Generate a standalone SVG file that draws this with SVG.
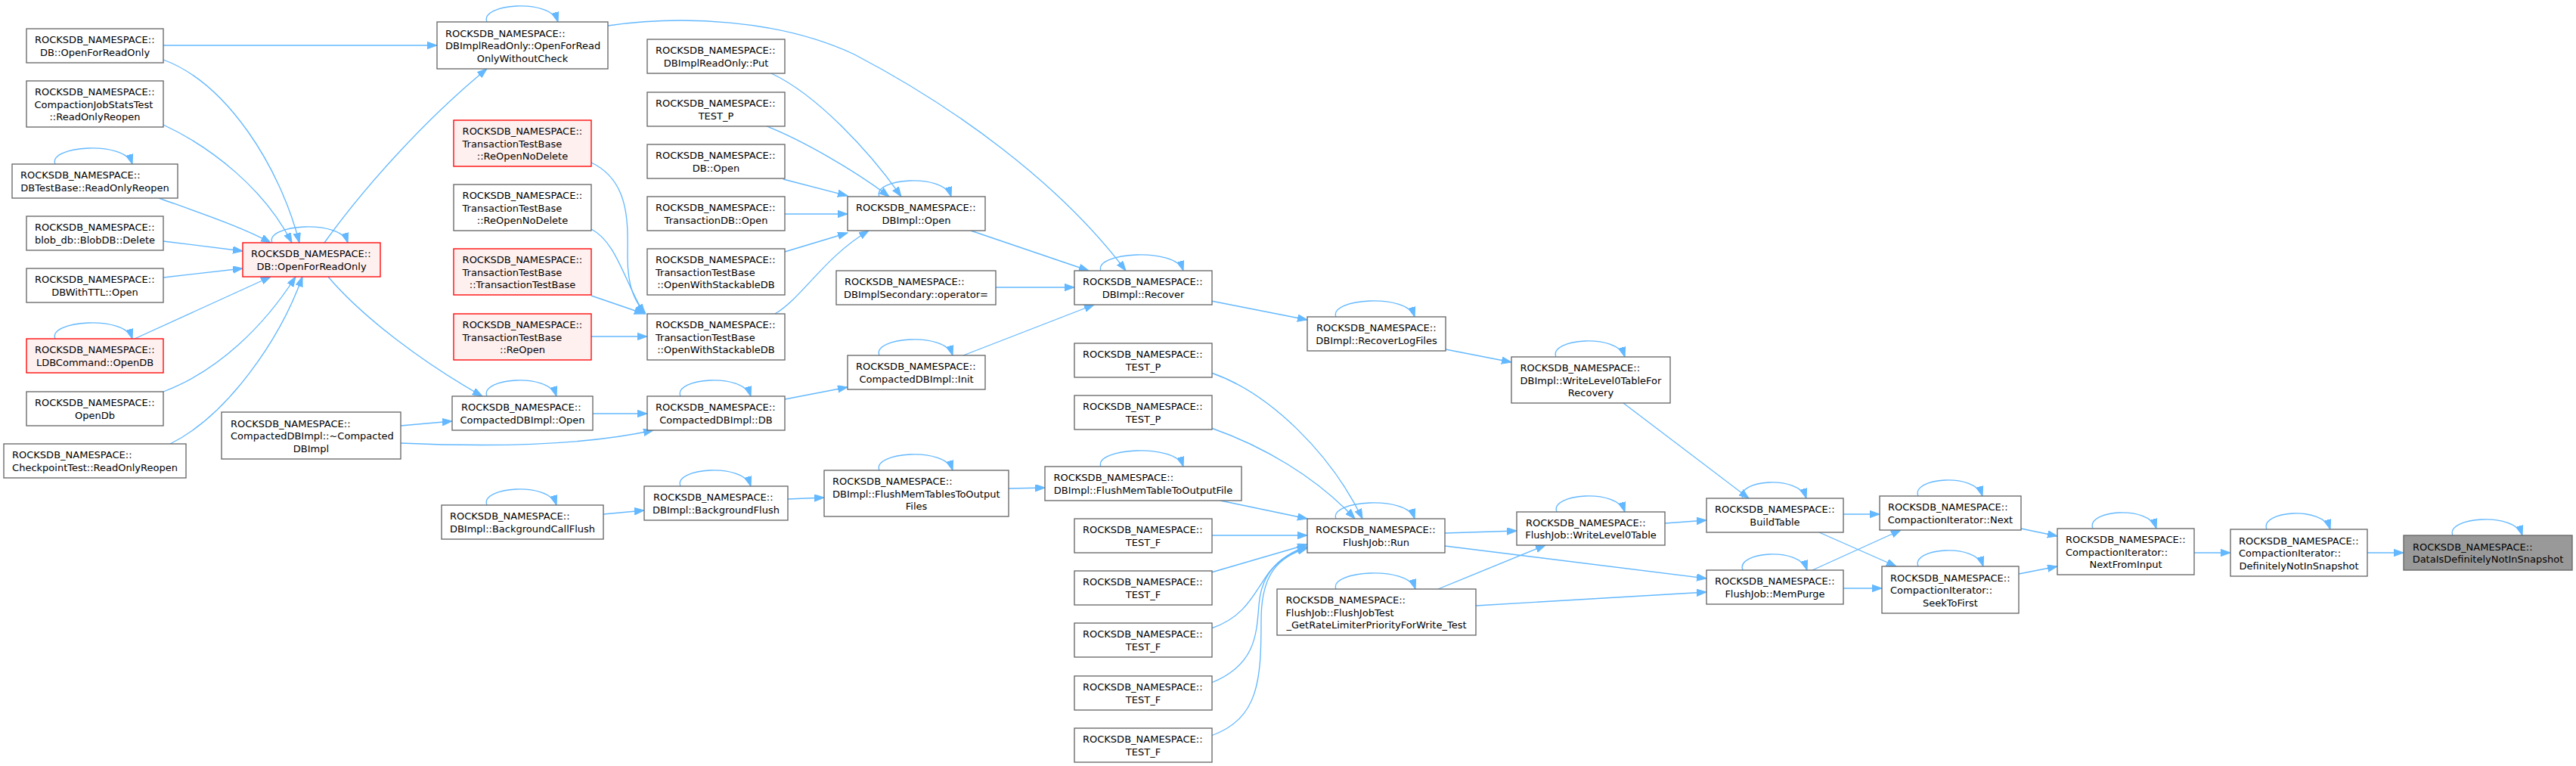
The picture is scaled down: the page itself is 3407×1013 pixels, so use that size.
<svg xmlns="http://www.w3.org/2000/svg" width="3407" height="1013" viewBox="0 0 3407 1013">
<style>
.n rect{fill:#ffffff;stroke:#666666;stroke-width:1.33}
.r rect{fill:#fff0f0;stroke:#ff0000;stroke-width:1.33}
.root rect{fill:#999999;stroke:#666666;stroke-width:1.33}
text{font-family:"DejaVu Sans","Liberation Sans",sans-serif;font-size:13px;fill:#000000}
.m{text-anchor:middle}
#edges path{fill:none;stroke:#63b8ff;stroke-width:1.33;marker-end:url(#ah)}
</style>
<defs>
<marker id="ah" markerWidth="14" markerHeight="10" refX="13" refY="4.7" orient="auto" markerUnits="userSpaceOnUse"><path d="M0,0 L13,4.7 L0,9.4 z" fill="#63b8ff" stroke="#63b8ff" stroke-width="1"/></marker>
</defs>
<rect width="3407" height="1013" fill="#ffffff"/>
<g id="edges">
<path d="M216,60 L578,60"/>
<path d="M216,79 C300,110 370,220 396,321"/>
<path d="M216,165 C280,195 350,250 386,321"/>
<path d="M210,262 C260,280 320,300 358,321"/>
<path d="M216,319 L321,332"/>
<path d="M216,367 L321,355"/>
<path d="M178,448 C240,420 300,392 358,366"/>
<path d="M216,518 C290,490 350,430 391,366"/>
<path d="M225,587 C300,550 370,450 400,366"/>
<path d="M429,321 C480,250 560,160 644,91"/>
<path d="M434,366 C480,420 560,480 638,524"/>
<path d="M530,563 L598,557"/>
<path d="M530,586 C620,590 760,592 864,569"/>
<path d="M784,547 L856,547"/>
<path d="M1038,528 L1121,512"/>
<path d="M804,34 C900,20 1030,25 1130,72 C1260,140 1400,240 1489,358"/>
<path d="M782,215 C835,240 830,300 830,340 C830,380 840,400 854,415"/>
<path d="M782,303 C815,320 825,370 852,415"/>
<path d="M782,391 L852,415"/>
<path d="M782,445 L856,445"/>
<path d="M1020,97 C1080,125 1150,200 1192,260"/>
<path d="M1014,167 C1060,185 1130,225 1176,260"/>
<path d="M1036,237 L1121,259"/>
<path d="M1038,283 L1121,283"/>
<path d="M1038,333 L1121,308"/>
<path d="M1025,415 C1060,395 1090,340 1149,305"/>
<path d="M1284,305 L1440,358"/>
<path d="M1317,380 L1421,380"/>
<path d="M1274,470 L1447,403"/>
<path d="M1602,398 L1729,423"/>
<path d="M1912,462 L1999,479"/>
<path d="M2147,533 L2313,659"/>
<path d="M798,680 L852,675"/>
<path d="M1042,660 L1090,658"/>
<path d="M1334,646 L1382,645"/>
<path d="M1614,662 L1729,686"/>
<path d="M1602,493 C1680,520 1760,600 1802,686"/>
<path d="M1602,566 C1670,590 1740,630 1792,686"/>
<path d="M1602,708 L1729,708"/>
<path d="M1602,757 L1729,720"/>
<path d="M1602,831 C1650,815 1660,780 1680,755 C1695,738 1710,728 1729,723"/>
<path d="M1602,903 C1660,880 1662,840 1665,800 C1668,760 1690,735 1729,724"/>
<path d="M1602,973 C1665,950 1668,900 1668,820 C1668,760 1690,736 1729,725"/>
<path d="M1911,705 L2006,702"/>
<path d="M1911,722 L2257,765"/>
<path d="M1952,801 L2257,783"/>
<path d="M1902,779 L2044,721"/>
<path d="M2202,692 L2257,688"/>
<path d="M2438,680 L2486,680"/>
<path d="M2406,704 L2508,749"/>
<path d="M2397,754 L2514,701"/>
<path d="M2438,778 L2489,778"/>
<path d="M2673,699 L2721,709"/>
<path d="M2670,759 L2721,749"/>
<path d="M2902,731 L2950,731"/>
<path d="M3131,731 L3179,731"/>
<!-- self loops -->
<path d="M73,217 C63,193 165,185 175,217"/>
<path d="M73,448 C63,424 165,416 175,448"/>
<path d="M360,321 C350,297 450,289 460,321"/>
<path d="M644,29 C634,5 728,-3 738,29"/>
<path d="M644,524 C634,500 726,492 736,524"/>
<path d="M900,524 C890,500 983,492 993,524"/>
<path d="M644,668 C634,644 726,636 736,668"/>
<path d="M900,643 C890,619 983,611 993,643"/>
<path d="M1163,260 C1153,236 1248,228 1258,260"/>
<path d="M1163,470 C1153,446 1250,438 1260,470"/>
<path d="M1163,622 C1153,598 1250,590 1260,622"/>
<path d="M1456,358 C1446,334 1555,326 1565,358"/>
<path d="M1456,617 C1446,593 1555,585 1565,617"/>
<path d="M1767,419 C1757,395 1861,387 1871,419"/>
<path d="M2058,472 C2048,448 2139,440 2149,472"/>
<path d="M1767,686 C1757,662 1861,654 1871,686"/>
<path d="M1767,779 C1757,755 1862,747 1872,779"/>
<path d="M2059,677 C2049,653 2139,645 2149,677"/>
<path d="M2305,659 C2295,635 2379,627 2389,659"/>
<path d="M2305,754 C2295,730 2380,722 2390,754"/>
<path d="M2537,656 C2527,632 2612,624 2622,656"/>
<path d="M2537,749 C2527,725 2613,717 2623,749"/>
<path d="M2768,699 C2758,675 2842,667 2852,699"/>
<path d="M2998,700 C2988,676 3072,668 3082,700"/>
<path d="M3244,708 C3234,684 3326,676 3336,708"/>
</g>
<g id="A1" class="n"><rect x="35" y="38" width="181" height="45"/><text x="46" y="57.2">ROCKSDB_NAMESPACE::</text><text class="m" x="125.5" y="73.8">DB::OpenForReadOnly</text></g>
<g id="A2" class="n"><rect x="35" y="107" width="181" height="61"/><text x="46" y="126">ROCKSDB_NAMESPACE::</text><text x="45.5" y="142.7">CompactionJobStatsTest</text><text class="m" x="125.5" y="159.4">::ReadOnlyReopen</text></g>
<g id="A3" class="n"><rect x="16" y="217" width="219" height="45"/><text x="27" y="236.2">ROCKSDB_NAMESPACE::</text><text class="m" x="125.5" y="252.8">DBTestBase::ReadOnlyReopen</text></g>
<g id="A4" class="n"><rect x="35" y="286" width="181" height="45"/><text x="46" y="305.2">ROCKSDB_NAMESPACE::</text><text class="m" x="125.5" y="321.8">blob_db::BlobDB::Delete</text></g>
<g id="A5" class="n"><rect x="35" y="355" width="181" height="45"/><text x="46" y="374.2">ROCKSDB_NAMESPACE::</text><text class="m" x="125.5" y="390.8">DBWithTTL::Open</text></g>
<g id="A6" class="r"><rect x="35" y="448" width="181" height="45"/><text x="46" y="467.2">ROCKSDB_NAMESPACE::</text><text class="m" x="125.5" y="483.8">LDBCommand::OpenDB</text></g>
<g id="A7" class="n"><rect x="35" y="518" width="181" height="45"/><text x="46" y="537.2">ROCKSDB_NAMESPACE::</text><text class="m" x="125.5" y="553.8">OpenDb</text></g>
<g id="A8" class="n"><rect x="5" y="587" width="241" height="45"/><text x="16" y="606.2">ROCKSDB_NAMESPACE::</text><text class="m" x="125.5" y="622.8">CheckpointTest::ReadOnlyReopen</text></g>
<g id="B1" class="n"><rect x="293" y="545" width="237" height="62"/><text x="305" y="564.5">ROCKSDB_NAMESPACE::</text><text x="305" y="581.2">CompactedDBImpl::~Compacted</text><text class="m" x="411.5" y="597.9">DBImpl</text></g>
<g id="R" class="r"><rect x="321" y="321" width="182" height="45"/><text x="332" y="340.2">ROCKSDB_NAMESPACE::</text><text class="m" x="412" y="356.8">DB::OpenForReadOnly</text></g>
<g id="C1" class="n"><rect x="578" y="29" width="226" height="62"/><text x="589" y="48.5">ROCKSDB_NAMESPACE::</text><text x="589" y="65.2">DBImplReadOnly::OpenForRead</text><text class="m" x="691" y="81.9">OnlyWithoutCheck</text></g>
<g id="C2" class="r"><rect x="600" y="159" width="182" height="61"/><text x="611.6" y="178">ROCKSDB_NAMESPACE::</text><text x="611.6" y="194.7">TransactionTestBase</text><text class="m" x="691" y="211.4">::ReOpenNoDelete</text></g>
<g id="C3" class="n"><rect x="600" y="244" width="182" height="61"/><text x="611.6" y="263">ROCKSDB_NAMESPACE::</text><text x="611.6" y="279.7">TransactionTestBase</text><text class="m" x="691" y="296.4">::ReOpenNoDelete</text></g>
<g id="C4" class="r"><rect x="600" y="329" width="182" height="61"/><text x="611.6" y="348">ROCKSDB_NAMESPACE::</text><text x="611.6" y="364.7">TransactionTestBase</text><text class="m" x="691" y="381.4">::TransactionTestBase</text></g>
<g id="C5" class="r"><rect x="600" y="415" width="182" height="61"/><text x="611.6" y="434">ROCKSDB_NAMESPACE::</text><text x="611.6" y="450.7">TransactionTestBase</text><text class="m" x="691" y="467.4">::ReOpen</text></g>
<g id="D1" class="n"><rect x="856" y="52" width="182" height="45"/><text x="867" y="71.2">ROCKSDB_NAMESPACE::</text><text class="m" x="947" y="87.8">DBImplReadOnly::Put</text></g>
<g id="D2" class="n"><rect x="856" y="122" width="182" height="45"/><text x="867" y="141.2">ROCKSDB_NAMESPACE::</text><text class="m" x="947" y="157.8">TEST_P</text></g>
<g id="D3" class="n"><rect x="856" y="191" width="182" height="45"/><text x="867" y="210.2">ROCKSDB_NAMESPACE::</text><text class="m" x="947" y="226.8">DB::Open</text></g>
<g id="D4" class="n"><rect x="856" y="260" width="182" height="45"/><text x="867" y="279.2">ROCKSDB_NAMESPACE::</text><text class="m" x="947" y="295.8">TransactionDB::Open</text></g>
<g id="D5" class="n"><rect x="856" y="329" width="182" height="61"/><text x="867" y="348">ROCKSDB_NAMESPACE::</text><text x="867" y="364.7">TransactionTestBase</text><text class="m" x="947" y="381.4">::OpenWithStackableDB</text></g>
<g id="D6" class="n"><rect x="856" y="415" width="182" height="61"/><text x="867" y="434">ROCKSDB_NAMESPACE::</text><text x="867" y="450.7">TransactionTestBase</text><text class="m" x="947" y="467.4">::OpenWithStackableDB</text></g>
<g id="E1" class="n"><rect x="598" y="524" width="186" height="45"/><text x="610" y="543.2">ROCKSDB_NAMESPACE::</text><text class="m" x="691" y="559.8">CompactedDBImpl::Open</text></g>
<g id="E2" class="n"><rect x="856" y="524" width="182" height="45"/><text x="867" y="543.2">ROCKSDB_NAMESPACE::</text><text class="m" x="947" y="559.8">CompactedDBImpl::DB</text></g>
<g id="F1" class="n"><rect x="584" y="668" width="214" height="45"/><text x="595" y="687.2">ROCKSDB_NAMESPACE::</text><text class="m" x="691" y="703.8">DBImpl::BackgroundCallFlush</text></g>
<g id="F2" class="n"><rect x="852" y="643" width="190" height="45"/><text x="864" y="662.2">ROCKSDB_NAMESPACE::</text><text class="m" x="947" y="678.8">DBImpl::BackgroundFlush</text></g>
<g id="G1" class="n"><rect x="1121" y="260" width="182" height="45"/><text x="1132" y="279.2">ROCKSDB_NAMESPACE::</text><text class="m" x="1212" y="295.8">DBImpl::Open</text></g>
<g id="G2" class="n"><rect x="1106" y="358" width="211" height="45"/><text x="1117" y="377.2">ROCKSDB_NAMESPACE::</text><text class="m" x="1211.5" y="393.8">DBImplSecondary::operator=</text></g>
<g id="G3" class="n"><rect x="1121" y="470" width="182" height="45"/><text x="1132" y="489.2">ROCKSDB_NAMESPACE::</text><text class="m" x="1212" y="505.8">CompactedDBImpl::Init</text></g>
<g id="G4" class="n"><rect x="1090" y="622" width="244" height="61"/><text x="1101" y="641">ROCKSDB_NAMESPACE::</text><text x="1101" y="657.7">DBImpl::FlushMemTablesToOutput</text><text class="m" x="1212" y="674.4">Files</text></g>
<g id="H1" class="n"><rect x="1421" y="358" width="182" height="45"/><text x="1432" y="377.2">ROCKSDB_NAMESPACE::</text><text class="m" x="1512" y="393.8">DBImpl::Recover</text></g>
<g id="H2" class="n"><rect x="1421" y="454" width="182" height="45"/><text x="1432" y="473.2">ROCKSDB_NAMESPACE::</text><text class="m" x="1512" y="489.8">TEST_P</text></g>
<g id="H3" class="n"><rect x="1421" y="523" width="182" height="45"/><text x="1432" y="542.2">ROCKSDB_NAMESPACE::</text><text class="m" x="1512" y="558.8">TEST_P</text></g>
<g id="H4" class="n"><rect x="1382" y="617" width="260" height="45"/><text x="1393.5" y="636.2">ROCKSDB_NAMESPACE::</text><text class="m" x="1512" y="652.8">DBImpl::FlushMemTableToOutputFile</text></g>
<g id="H5" class="n"><rect x="1421" y="686" width="182" height="45"/><text x="1432" y="705.2">ROCKSDB_NAMESPACE::</text><text class="m" x="1512" y="721.8">TEST_F</text></g>
<g id="H6" class="n"><rect x="1421" y="755" width="182" height="45"/><text x="1432" y="774.2">ROCKSDB_NAMESPACE::</text><text class="m" x="1512" y="790.8">TEST_F</text></g>
<g id="H7" class="n"><rect x="1421" y="824" width="182" height="45"/><text x="1432" y="843.2">ROCKSDB_NAMESPACE::</text><text class="m" x="1512" y="859.8">TEST_F</text></g>
<g id="H8" class="n"><rect x="1421" y="894" width="182" height="45"/><text x="1432" y="913.2">ROCKSDB_NAMESPACE::</text><text class="m" x="1512" y="929.8">TEST_F</text></g>
<g id="H9" class="n"><rect x="1421" y="963" width="182" height="45"/><text x="1432" y="982.2">ROCKSDB_NAMESPACE::</text><text class="m" x="1512" y="998.8">TEST_F</text></g>
<g id="I1" class="n"><rect x="1729" y="419" width="183" height="45"/><text x="1741" y="438.2">ROCKSDB_NAMESPACE::</text><text class="m" x="1820.5" y="454.8">DBImpl::RecoverLogFiles</text></g>
<g id="J1" class="n"><rect x="1999" y="472" width="210" height="61"/><text x="2010.5" y="491">ROCKSDB_NAMESPACE::</text><text x="2010.5" y="507.7">DBImpl::WriteLevel0TableFor</text><text class="m" x="2104" y="524.4">Recovery</text></g>
<g id="K1" class="n"><rect x="1729" y="686" width="182" height="45"/><text x="1740" y="705.2">ROCKSDB_NAMESPACE::</text><text class="m" x="1820" y="721.8">FlushJob::Run</text></g>
<g id="K2" class="n"><rect x="1689" y="779" width="263" height="61"/><text x="1700.4" y="798">ROCKSDB_NAMESPACE::</text><text x="1700.4" y="814.7">FlushJob::FlushJobTest</text><text class="m" x="1820.5" y="831.4">_GetRateLimiterPriorityForWrite_Test</text></g>
<g id="L1" class="n"><rect x="2006" y="677" width="196" height="44"/><text x="2018" y="695.7">ROCKSDB_NAMESPACE::</text><text class="m" x="2104" y="712.3">FlushJob::WriteLevel0Table</text></g>
<g id="M1" class="n"><rect x="2257" y="659" width="181" height="45"/><text x="2268" y="678.2">ROCKSDB_NAMESPACE::</text><text class="m" x="2347.5" y="694.8">BuildTable</text></g>
<g id="M2" class="n"><rect x="2257" y="754" width="181" height="45"/><text x="2268" y="773.2">ROCKSDB_NAMESPACE::</text><text class="m" x="2347.5" y="789.8">FlushJob::MemPurge</text></g>
<g id="N1" class="n"><rect x="2486" y="656" width="187" height="45"/><text x="2497" y="675.2">ROCKSDB_NAMESPACE::</text><text class="m" x="2579.5" y="691.8">CompactionIterator::Next</text></g>
<g id="N2" class="n"><rect x="2489" y="749" width="181" height="62"/><text x="2500" y="768.5">ROCKSDB_NAMESPACE::</text><text x="2500" y="785.2">CompactionIterator::</text><text class="m" x="2579.5" y="801.9">SeekToFirst</text></g>
<g id="O1" class="n"><rect x="2721" y="699" width="181" height="61"/><text x="2732" y="718">ROCKSDB_NAMESPACE::</text><text x="2732" y="734.7">CompactionIterator::</text><text class="m" x="2811.5" y="751.4">NextFromInput</text></g>
<g id="P1" class="n"><rect x="2950" y="700" width="181" height="62"/><text x="2961" y="719.5">ROCKSDB_NAMESPACE::</text><text x="2961" y="736.2">CompactionIterator::</text><text class="m" x="3040.5" y="752.9">DefinitelyNotInSnapshot</text></g>
<g id="Q1" class="root"><rect x="3179" y="708" width="223" height="46"/><text x="3191" y="727.7">ROCKSDB_NAMESPACE::</text><text class="m" x="3290.5" y="744.3">DataIsDefinitelyNotInSnapshot</text></g>
</svg>
